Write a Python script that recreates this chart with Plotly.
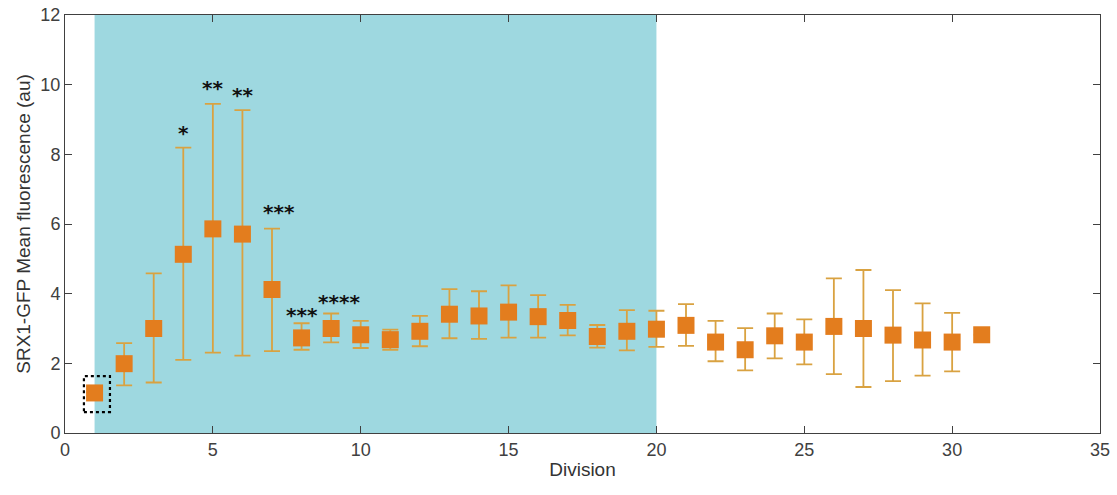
import plotly.graph_objects as go

division = list(range(1, 32))
mean_vals = [1.15, 1.99, 3.00, 5.13, 5.86, 5.71, 4.12, 2.73, 3.00, 2.82,
             2.68, 2.92, 3.41, 3.36, 3.47, 3.34, 3.23, 2.77, 2.92, 2.98,
             3.09, 2.61, 2.39, 2.79, 2.61, 3.06, 3.00, 2.81, 2.67, 2.61, 2.82]
upper_vals = [1.15, 2.58, 4.58, 8.19, 9.45, 9.27, 5.87, 3.15, 3.43, 3.22,
              2.97, 3.36, 4.13, 4.07, 4.24, 3.96, 3.68, 3.10, 3.53, 3.51,
              3.70, 3.22, 3.01, 3.43, 3.26, 4.44, 4.68, 4.10, 3.72, 3.45, 2.82]
lower_vals = [1.15, 1.37, 1.45, 2.10, 2.31, 2.22, 2.35, 2.39, 2.60, 2.44,
              2.39, 2.49, 2.72, 2.70, 2.74, 2.74, 2.80, 2.45, 2.37, 2.47,
              2.50, 2.06, 1.80, 2.14, 1.97, 1.69, 1.32, 1.49, 1.65, 1.77, 2.82]

sig_labels = ["*", "**", "**", "***", "***", "****"]
sig_x = [4.0, 5.0, 6.0, 7.25, 8.0, 9.25]
sig_y = [8.6, 9.9, 9.7, 6.35, 3.4, 3.77]

shade_x = [1, 20]
x_ticks = [0, 5, 10, 15, 20, 25, 30, 35]
y_ticks = [0, 2, 4, 6, 8, 10, 12]

err_plus = [u - m for u, m in zip(upper_vals, mean_vals)]
err_minus = [m - l for m, l in zip(mean_vals, lower_vals)]

fig = go.Figure()
fig.add_shape(type="rect", xref="x", yref="y", x0=shade_x[0], x1=shade_x[1], y0=0, y1=12,
              fillcolor="#9ED8E0", line=dict(width=0), layer="below")
fig.add_shape(type="rect", xref="x", yref="y", x0=0.64, x1=1.52, y0=0.6, y1=1.63,
              line=dict(color="black", width=2.2, dash="dot"), fillcolor="rgba(0,0,0,0)")

fig.add_trace(go.Scatter(
    x=division, y=mean_vals, mode="markers",
    marker=dict(symbol="square", size=17, color="#E37D1E", line=dict(width=0)),
    error_y=dict(type="data", array=err_plus, arrayminus=err_minus, symmetric=False,
                 color="#D9A241", thickness=1.8, width=8),
    showlegend=False,
))

for lab, xx, yy in zip(sig_labels, sig_x, sig_y):
    fig.add_annotation(x=xx, y=yy, text="<b>" + lab + "</b>", showarrow=False,
                       font=dict(family="DejaVu Sans, Arial", size=20, color="#111111"),
                       xanchor="center", yanchor="middle")

axis_common = dict(showline=True, linecolor="#404040", linewidth=1, mirror="ticks",
                   ticks="inside", ticklen=7, tickcolor="#404040", showgrid=False, zeroline=False,
                   automargin=False, ticklabeloverflow="allow",
                   tickfont=dict(family="Liberation Sans, Arial", size=18, color="#404040"))

fig.update_xaxes(range=[0, 35], tickvals=x_ticks,
                 title=dict(text="Division", font=dict(family="Liberation Sans, Arial", size=19, color="#333333"), standoff=4),
                 **axis_common)
fig.update_yaxes(range=[0, 12], tickvals=y_ticks,
                 title=dict(text="SRX1-GFP Mean fluorescence (au)", font=dict(family="Liberation Sans, Arial", size=19, color="#333333"), standoff=4),
                 **axis_common)

fig.update_layout(width=1117, height=495, margin=dict(l=65, r=17, t=15, b=62),
                  plot_bgcolor="white", paper_bgcolor="white")

fig.write_html("out.html", config={"displayModeBar": False},
               post_script="document.body.style.margin='0px';")
